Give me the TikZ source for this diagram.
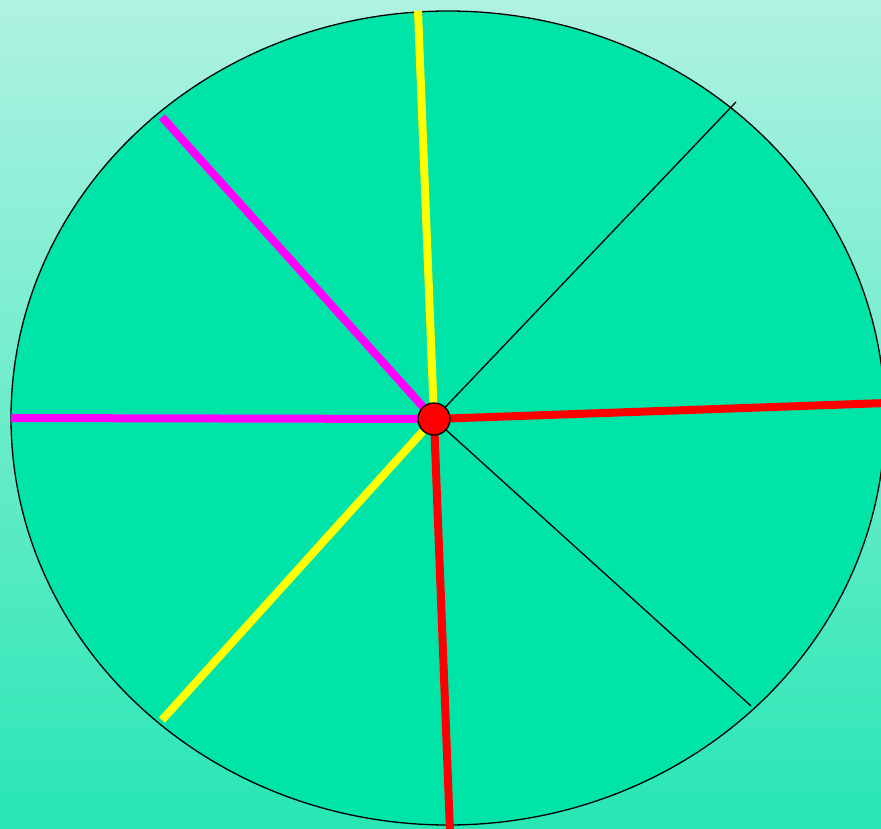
\documentclass[tikz,border=0pt]{standalone}
\usepackage{xcolor}
\usepackage{tikz}

\definecolor{bgtop}{RGB}{176,242,226}
\definecolor{bgbottom}{RGB}{40,230,180}
\definecolor{wheel}{RGB}{0,228,168}
\definecolor{spokemag}{RGB}{255,0,255}
\definecolor{spokeyel}{RGB}{255,255,0}
\definecolor{spokered}{RGB}{255,0,0}

\begin{document}
\begin{tikzpicture}[
    x=1pt, y=-1pt,
    spoke/.style={line width=8pt},
    thinspoke/.style={line width=1.3pt, black},
    hub/.style={circle, draw, fill=spokered, minimum size=32pt, inner sep=0pt, line width=1.3pt}
]
    \useasboundingbox (0,0) rectangle (881,828);
    \clip (0,0) rectangle (881,828);
    \shade[top color=bgtop, bottom color=bgbottom] (0,0) rectangle (881,828);
    \draw[fill=wheel, line width=1.3pt] (448,418) ellipse [x radius=437, y radius=407];

    % spoke ends
    \coordinate (c) at (434,419);
    \coordinate (n) at (418,11);
    \coordinate (ne) at (736,102);
    \coordinate (e) at (886,403);
    \coordinate (se) at (751,706);
    \coordinate (s) at (450,832);
    \coordinate (sw) at (162,720);
    \coordinate (w) at (11,418);
    \coordinate (nw) at (162,117);

    \draw[spoke, spokemag] (c) -- (w);
    \draw[spoke, spokemag] (c) -- (nw);
    \draw[spoke, spokeyel] (c) -- (sw);
    \draw[spoke, spokeyel] (c) -- (n);
    \draw[spoke, spokered] (c) -- (e);
    \draw[spoke, spokered] (c) -- (s);
    \draw[thinspoke] (c) -- (ne);
    \draw[thinspoke] (c) -- (se);

    \node[hub] (hub) at (c) {};
\end{tikzpicture}
\end{document}
